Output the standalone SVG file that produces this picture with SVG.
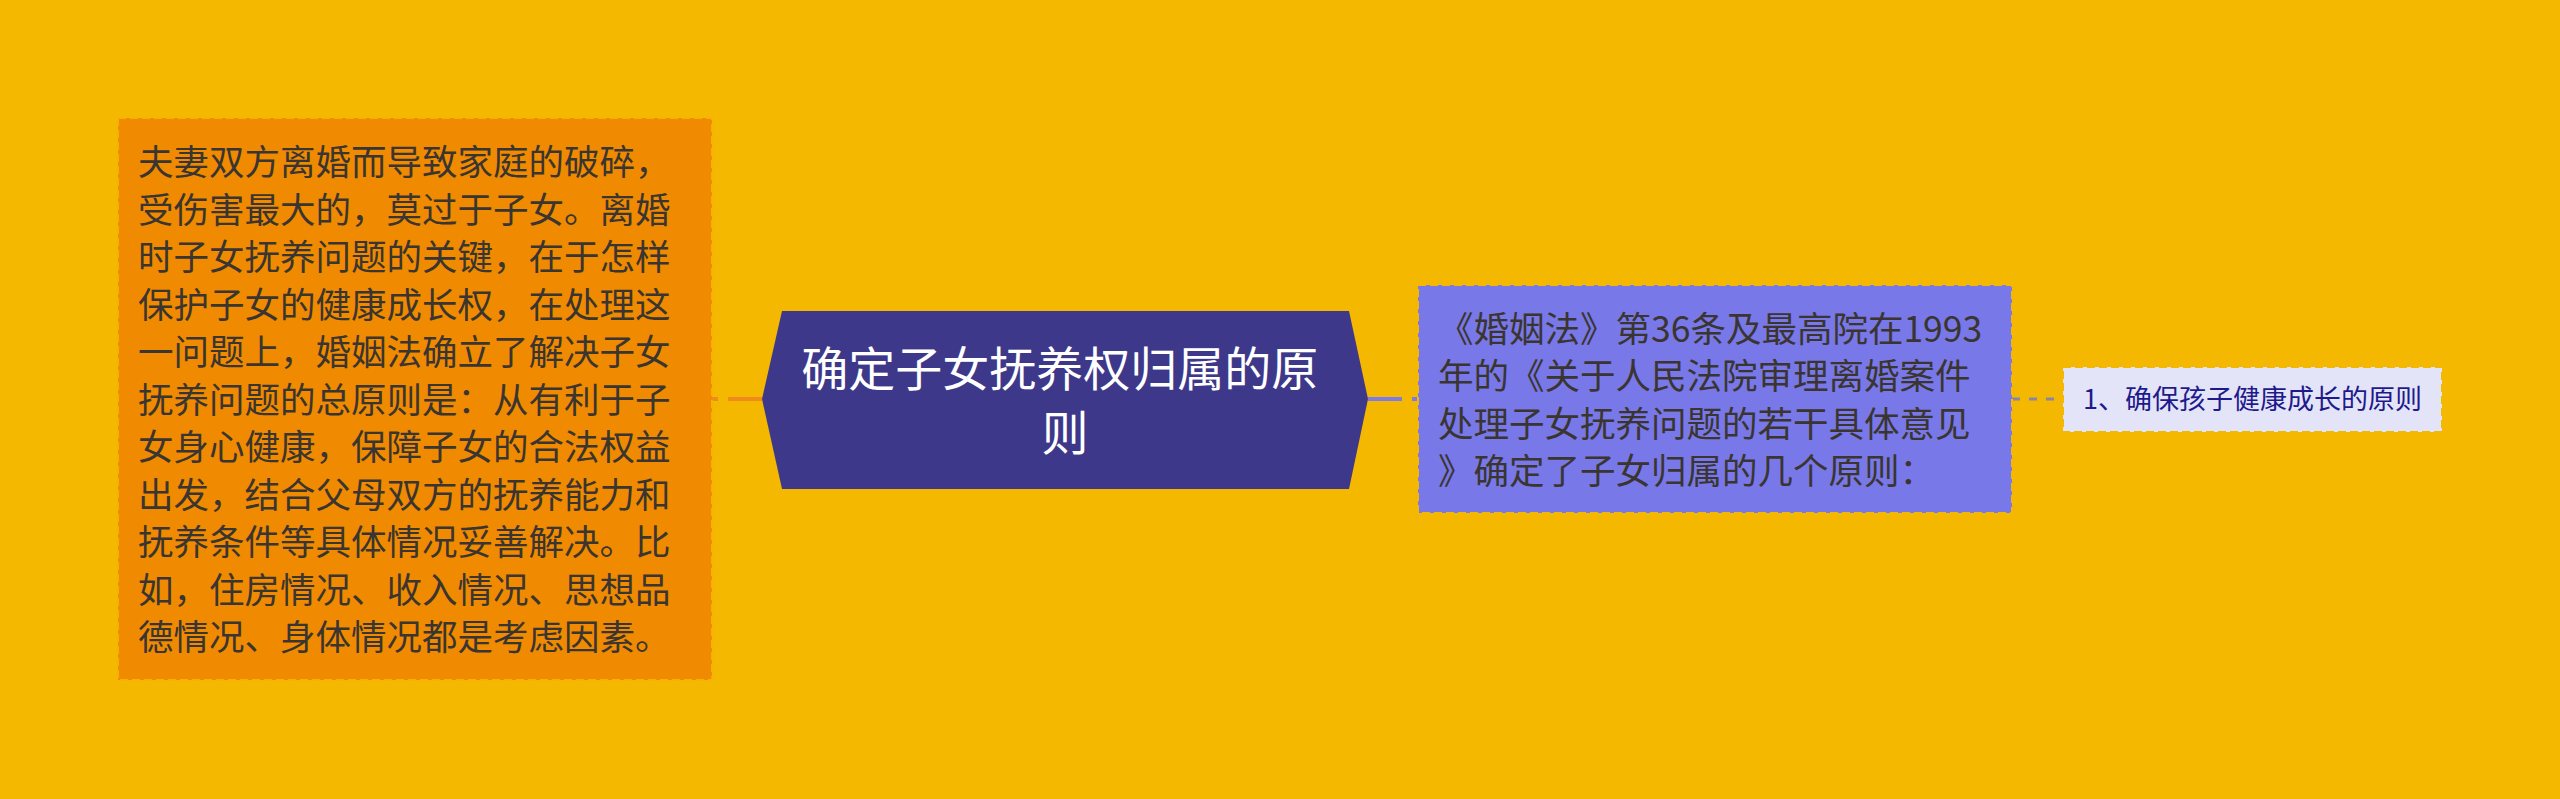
<svg xmlns="http://www.w3.org/2000/svg" width="2560" height="799" viewBox="0 0 2560 799">
<style>
.t{font-family:"Noto Sans CJK SC","Noto Sans",sans-serif}
.lt{font-size:35.5px;fill:#3a3530}
.ct{font-size:47px;fill:#ffffff;text-anchor:middle}
.ft{font-size:27px;fill:#1e1a8c;text-anchor:middle}
.conn{fill:none;stroke-width:4}
</style>
<rect x="0" y="0" width="2560" height="799" fill="#f5b800"/>
<g id="connectors">
<line class="conn" x1="712" y1="399" x2="762" y2="399" stroke="#ef8a1c" stroke-dasharray="6 10 34 0"/>
<line class="conn" x1="1368" y1="399" x2="1418" y2="399" stroke="#7b7bea" stroke-dasharray="34 10"/>
<line x1="2012" y1="399" x2="2063" y2="399" stroke="#8a84a8" stroke-width="3" stroke-dasharray="8 9"/>
</g>
<g id="node-left">
<rect x="118" y="118" width="594" height="562" fill="#f08a00" stroke="#f5b200" stroke-width="2" stroke-dasharray="8 4"/>
<text class="t lt" x="138" y="175">
<tspan x="138" y="175">夫妻双方离婚而导致家庭的破碎，</tspan>
<tspan x="138" y="222.5">受伤害最大的，莫过于子女。离婚</tspan>
<tspan x="138" y="270">时子女抚养问题的关键，在于怎样</tspan>
<tspan x="138" y="317.5">保护子女的健康成长权，在处理这</tspan>
<tspan x="138" y="365">一问题上，婚姻法确立了解决子女</tspan>
<tspan x="138" y="412.5">抚养问题的总原则是：从有利于子</tspan>
<tspan x="138" y="460">女身心健康，保障子女的合法权益</tspan>
<tspan x="138" y="507.5">出发，结合父母双方的抚养能力和</tspan>
<tspan x="138" y="555">抚养条件等具体情况妥善解决。比</tspan>
<tspan x="138" y="602.5">如，住房情况、收入情况、思想品</tspan>
<tspan x="138" y="650">德情况、身体情况都是考虑因素。</tspan>
</text>
</g>
<g id="node-center">
<polygon points="782,311 1349,311 1368,399 1349,489 782,489 762,399" fill="#3d3889"/>
<text class="t ct" x="1065" y="386">
<tspan x="1065" y="386">确定子女抚养权归属的原</tspan>
<tspan x="1065" y="450">则</tspan>
</text>
</g>
<g id="node-right">
<rect x="1418" y="285" width="594" height="228" fill="#7878e8" stroke="#f5b800" stroke-width="2" stroke-dasharray="8 4"/>
<text class="t lt" x="1438" y="341.5">
<tspan x="1438" y="341.5">《婚姻法》第36条及最高院在1993</tspan>
<tspan x="1438" y="389">年的《关于人民法院审理离婚案件</tspan>
<tspan x="1438" y="436.5">处理子女抚养问题的若干具体意见</tspan>
<tspan x="1438" y="484">》确定了子女归属的几个原则：</tspan>
</text>
</g>
<g id="node-far-right">
<rect x="2063" y="367" width="379" height="65" fill="#e4e4f8" stroke="#f5b800" stroke-width="2" stroke-dasharray="8 4"/>
<text class="t ft" x="2252.5" y="409">1、确保孩子健康成长的原则</text>
</g>
</svg>
